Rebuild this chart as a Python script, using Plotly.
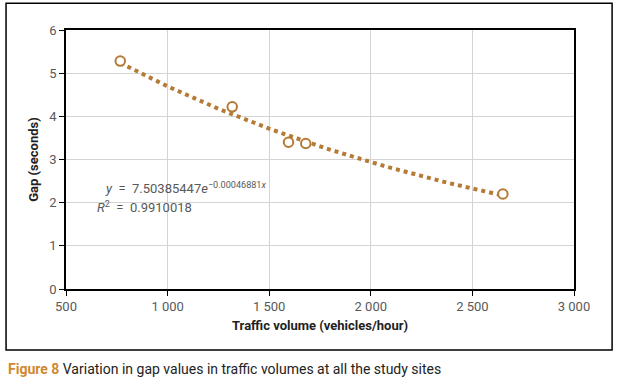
import numpy as np
import plotly.graph_objects as go

# Data
traffic_volume = [767, 1318, 1595, 1680, 2650]
gap_seconds = [5.28, 4.22, 3.40, 3.37, 2.20]
fit_a = 7.50385447
fit_b = -0.00046881
x_tickvals = [500, 1000, 1500, 2000, 2500, 3000]
x_ticktext = ["500", "1 000", "1 500", "2 000", "2 500", "3 000"]
y_tickvals = [0, 1, 2, 3, 4, 5, 6]

color = "#B57A35"
font = "Liberation Sans Narrow, Roboto, Arial"

xf = np.linspace(min(traffic_volume), max(traffic_volume), 100)
yf = fit_a * np.exp(fit_b * xf)

fig = go.Figure()
fig.add_trace(go.Scatter(x=xf, y=yf, mode="lines",
                         line=dict(color=color, width=4, dash="dot"),
                         hoverinfo="skip", showlegend=False))
fig.add_trace(go.Scatter(x=traffic_volume, y=gap_seconds, mode="markers",
                         marker=dict(symbol="circle", size=9.5, color="white",
                                     line=dict(color=color, width=2)),
                         showlegend=False))

axis_common = dict(showline=True, linecolor="black", linewidth=1.5, mirror=True,
                   showgrid=True, gridcolor="#D4D4D4", gridwidth=1,
                   ticks="outside", ticklen=5, tickcolor="black",
                   tickfont=dict(family=font, size=13, color="#595959"),
                   zeroline=False, automargin=False)

fig.update_xaxes(range=[500, 3000], tickvals=x_tickvals, ticktext=x_ticktext,
                 title=dict(text="<b>Traffic volume (vehicles/hour)</b>",
                            font=dict(family=font, size=13, color="#222222"),
                            standoff=8),
                 **axis_common)
fig.update_yaxes(range=[0, 6], tickvals=y_tickvals,
                 title=dict(text="<b>Gap (seconds)</b>",
                            font=dict(family=font, size=13, color="#222222"),
                            standoff=8),
                 **axis_common)

fig.add_annotation(x=682, y=2.34, xref="x", yref="y", xanchor="left", yanchor="middle",
                   text="<i>y</i>  =  7.50385447<i>e</i><sup>−0.00046881<i>x</i></sup>",
                   showarrow=False, font=dict(family=font, size=13, color="#595959"))
fig.add_annotation(x=643, y=1.89, xref="x", yref="y", xanchor="left", yanchor="middle",
                   text="<i>R</i><sup>2</sup>  =  0.9910018",
                   showarrow=False, font=dict(family=font, size=13, color="#595959"))

# outer frame
fig.add_shape(type="rect", xref="paper", yref="paper",
              x0=-0.118, x1=1.075, y0=-0.2355, y1=1.103,
              line=dict(color="black", width=1.5), fillcolor="rgba(0,0,0,0)")

fig.add_annotation(x=-0.118, y=-0.31, xref="paper", yref="paper",
                   xanchor="left", yanchor="middle", showarrow=False,
                   text="<b><span style='color:#D08A2E'>Figure 8</span></b> Variation in gap values in traffic volumes at all the study sites",
                   font=dict(family=font, size=14, color="#222222"))

fig.update_layout(width=618, height=383,
                  margin=dict(l=66, r=44, t=30, b=94),
                  paper_bgcolor="white", plot_bgcolor="white")

fig.write_html("out.html", config={"displayModeBar": False},
               post_script="document.body.style.margin='0';document.body.style.overflow='hidden';")
